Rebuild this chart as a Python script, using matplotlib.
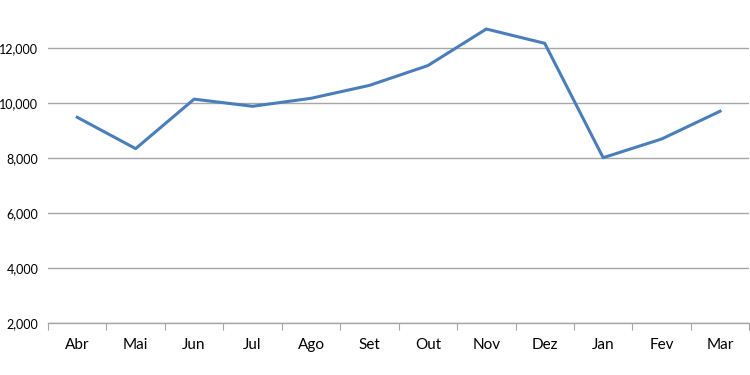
import matplotlib.pyplot as plt
import numpy as np

# meses e valores
months = ['Abr', 'Mai', 'Jun', 'Jul', 'Ago', 'Set', 'Out', 'Nov', 'Dez', 'Jan', 'Fev', 'Mar']
values = [9480, 8340, 10140, 9880, 10170, 10640, 11360, 12690, 12170, 8010, 8690, 9700]
y_ticks = [2000, 4000, 6000, 8000, 10000, 12000]

plt.rcParams['font.family'] = ['Lato', 'DejaVu Sans']

fig = plt.figure(figsize=(7.5, 3.75), dpi=100)
ax = fig.add_axes([0.064, 0.1387, 0.935, 0.88])

x = np.arange(len(months))
ax.plot(x, values, color='#4A7EBB', linewidth=2.2, solid_joinstyle='round', zorder=3)

ax.set_xlim(-0.5, len(months) - 0.5)
ax.set_ylim(2000, 14000)
ax.set_yticks(y_ticks)
ax.set_yticklabels([f'{v:,}' for v in y_ticks], fontsize=9)
ax.yaxis.grid(True, color='#A6A6A6', linewidth=1)
ax.set_axisbelow(True)

# ticks nas fronteiras das categorias, rótulos no centro
ax.set_xticks(np.arange(len(months) + 1) - 0.5)
ax.set_xticklabels([])
ax.set_xticks(x, minor=True)
ax.set_xticklabels(months, minor=True, fontsize=11)
ax.tick_params(axis='x', which='major', length=5, color='#A6A6A6', direction='out')
ax.tick_params(axis='x', which='minor', length=0, pad=11)
ax.tick_params(axis='y', length=0, pad=7)

for s in ['top', 'right', 'left']:
    ax.spines[s].set_visible(False)
ax.spines['bottom'].set_color('#A6A6A6')
ax.spines['bottom'].set_linewidth(1)

plt.savefig('out.png', dpi=100, facecolor='white')
